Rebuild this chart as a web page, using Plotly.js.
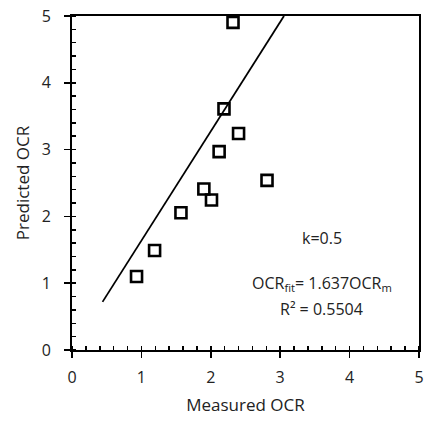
<!DOCTYPE html>
<html>
<head>
<meta charset="utf-8">
<script src="https://cdn.plot.ly/plotly-3.0.1.min.js"></script>
<style>html,body{margin:0;padding:0;background:#fff;}#chart{width:429px;height:423px;}</style>
</head>
<body>
<div id="chart"></div>
<script>
const measuredOCR = [0.93, 1.19, 1.57, 1.90, 2.01, 2.12, 2.19, 2.32, 2.40, 2.81];
const predictedOCR = [1.10, 1.49, 2.055, 2.41, 2.245, 2.97, 3.61, 4.905, 3.24, 2.54];
const fitSlope = 1.637;
const fitX = [0.44, 5 / 1.637];
const fitY = fitX.map(x => fitSlope * x);
const tickVals = [0, 1, 2, 3, 4, 5];

const font = "Open Sans, Liberation Sans, sans-serif";
const axisCommon = {
  range: [0, 5],
  tickvals: tickVals,
  ticks: 'outside',
  ticklen: 6,
  tickwidth: 1.5,
  tickcolor: '#000',
  showline: true,
  linecolor: '#000',
  linewidth: 2,
  mirror: true,
  showgrid: false,
  zeroline: false,
  tickfont: {family: font, size: 16, color: '#222'},
  minor: {dtick: 0.2, ticks: 'inside', ticklen: 4, tickwidth: 1.5, tickcolor: '#000', showgrid: false},
  fixedrange: true
};

const data = [
  {x: fitX, y: fitY, mode: 'lines', type: 'scatter', line: {color: '#000', width: 1.8}, hoverinfo: 'skip', showlegend: false, cliponaxis: true},
  {x: measuredOCR, y: predictedOCR, mode: 'markers', type: 'scatter',
   marker: {symbol: 'square-open', size: 11, color: '#000', line: {width: 2.6, color: '#000'}}, showlegend: false, cliponaxis: false}
];

const layout = {
  width: 429, height: 423,
  margin: {l: 72, r: 10, t: 16, b: 73},
  paper_bgcolor: '#fff', plot_bgcolor: '#fff',
  xaxis: Object.assign({}, axisCommon, {ticklabelstandoff: 6, title: {text: 'Measured OCR', font: {family: font, size: 17, color: '#222'}, standoff: 12}}),
  yaxis: Object.assign({}, axisCommon, {ticklabelstandoff: 10, title: {text: 'Predicted OCR', font: {family: font, size: 17, color: '#222'}, standoff: 8}}),
  annotations: [
    {x: 3.6, y: 1.68, xref: 'x', yref: 'y', text: 'k=0.5', showarrow: false, font: {family: font, size: 16, color: '#222'}},
    {x: 3.6, y: 0.99, xref: 'x', yref: 'y', text: 'OCR<sub>fit</sub>= 1.637OCR<sub>m</sub>', showarrow: false, font: {family: font, size: 16, color: '#222'}},
    {x: 3.6, y: 0.62, xref: 'x', yref: 'y', text: 'R² = 0.5504', showarrow: false, font: {family: font, size: 16, color: '#222'}}
  ]
};

Plotly.newPlot('chart', data, layout, {displayModeBar: false, staticPlot: true});
</script>
</body>
</html>
